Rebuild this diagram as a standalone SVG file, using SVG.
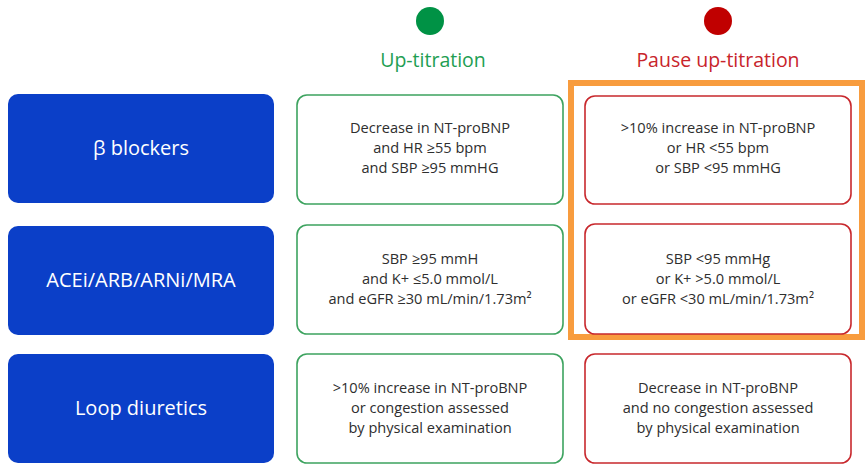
<svg xmlns="http://www.w3.org/2000/svg" width="866" height="466" viewBox="0 0 866 466">
<style>
.drug{fill:#0b3fc8}
.dt{font-family:"Open Sans","Noto Sans",sans-serif;font-size:20px;fill:#ffffff;text-anchor:middle}
.up{fill:#ffffff;stroke:#3da35f;stroke-width:1.6}
.pause{fill:#ffffff;stroke:#c8282d;stroke-width:1.6}
.bt{font-family:"Open Sans","Noto Sans",sans-serif;font-size:14.6px;fill:#2e2e2e;text-anchor:middle}
.hd{font-family:"Open Sans","Noto Sans",sans-serif;font-size:19.5px;text-anchor:middle}
</style>
<rect width="866" height="466" fill="#ffffff"/>
<g id="header-up">
<circle cx="430" cy="21" r="14" fill="#009245"/>
<text class="hd" x="433" y="67" fill="#1e9e52">Up-titration</text>
</g>
<g id="header-pause">
<circle cx="718" cy="21" r="14" fill="#c00000"/>
<text class="hd" x="718" y="67" fill="#c8242b">Pause up-titration</text>
</g>
<g id="drug-beta">
<rect class="drug" x="8" y="94" width="266" height="109" rx="10"/>
<text class="dt" x="141" y="155">β blockers</text>
</g>
<g id="drug-acei">
<rect class="drug" x="8" y="226" width="266" height="109" rx="10"/>
<text class="dt" x="141" y="287">ACEi/ARB/ARNi/MRA</text>
</g>
<g id="drug-loop">
<rect class="drug" x="8" y="354" width="266" height="109" rx="10"/>
<text class="dt" x="141" y="415">Loop diuretics</text>
</g>
<g id="up-beta">
<rect class="up" x="297" y="95" width="266" height="109" rx="10"/>
<text class="bt" x="430" y="133">Decrease in NT-proBNP</text>
<text class="bt" x="430" y="153">and HR ≥55 bpm</text>
<text class="bt" x="430" y="173">and SBP ≥95 mmHG</text>
</g>
<g id="up-acei">
<rect class="up" x="297" y="225" width="266" height="109" rx="10"/>
<text class="bt" x="430" y="264">SBP ≥95 mmH</text>
<text class="bt" x="430" y="284">and K+ ≤5.0 mmol/L</text>
<text class="bt" x="430" y="304">and eGFR ≥30 mL/min/1.73m²</text>
</g>
<g id="up-loop">
<rect class="up" x="297" y="354" width="266" height="109" rx="10"/>
<text class="bt" x="430" y="393">&gt;10% increase in NT-proBNP</text>
<text class="bt" x="430" y="413">or congestion assessed</text>
<text class="bt" x="430" y="433">by physical examination</text>
</g>
<g id="highlight">
<rect x="571" y="83" width="291" height="254" fill="none" stroke="#f89c3e" stroke-width="6"/>
</g>
<g id="pause-beta">
<rect class="pause" x="585" y="96" width="266" height="108" rx="10"/>
<text class="bt" x="718" y="133">&gt;10% increase in NT-proBNP</text>
<text class="bt" x="718" y="153">or HR &lt;55 bpm</text>
<text class="bt" x="718" y="173">or SBP &lt;95 mmHG</text>
</g>
<g id="pause-acei">
<rect class="pause" x="585" y="224" width="266" height="110" rx="10"/>
<text class="bt" x="718" y="264">SBP &lt;95 mmHg</text>
<text class="bt" x="718" y="284">or K+ &gt;5.0 mmol/L</text>
<text class="bt" x="718" y="304">or eGFR &lt;30 mL/min/1.73m²</text>
</g>
<g id="pause-loop">
<rect class="pause" x="585" y="354" width="266" height="109" rx="10"/>
<text class="bt" x="718" y="393">Decrease in NT-proBNP</text>
<text class="bt" x="718" y="413">and no congestion assessed</text>
<text class="bt" x="718" y="433">by physical examination</text>
</g>
<g id="connectors"/>
</svg>
